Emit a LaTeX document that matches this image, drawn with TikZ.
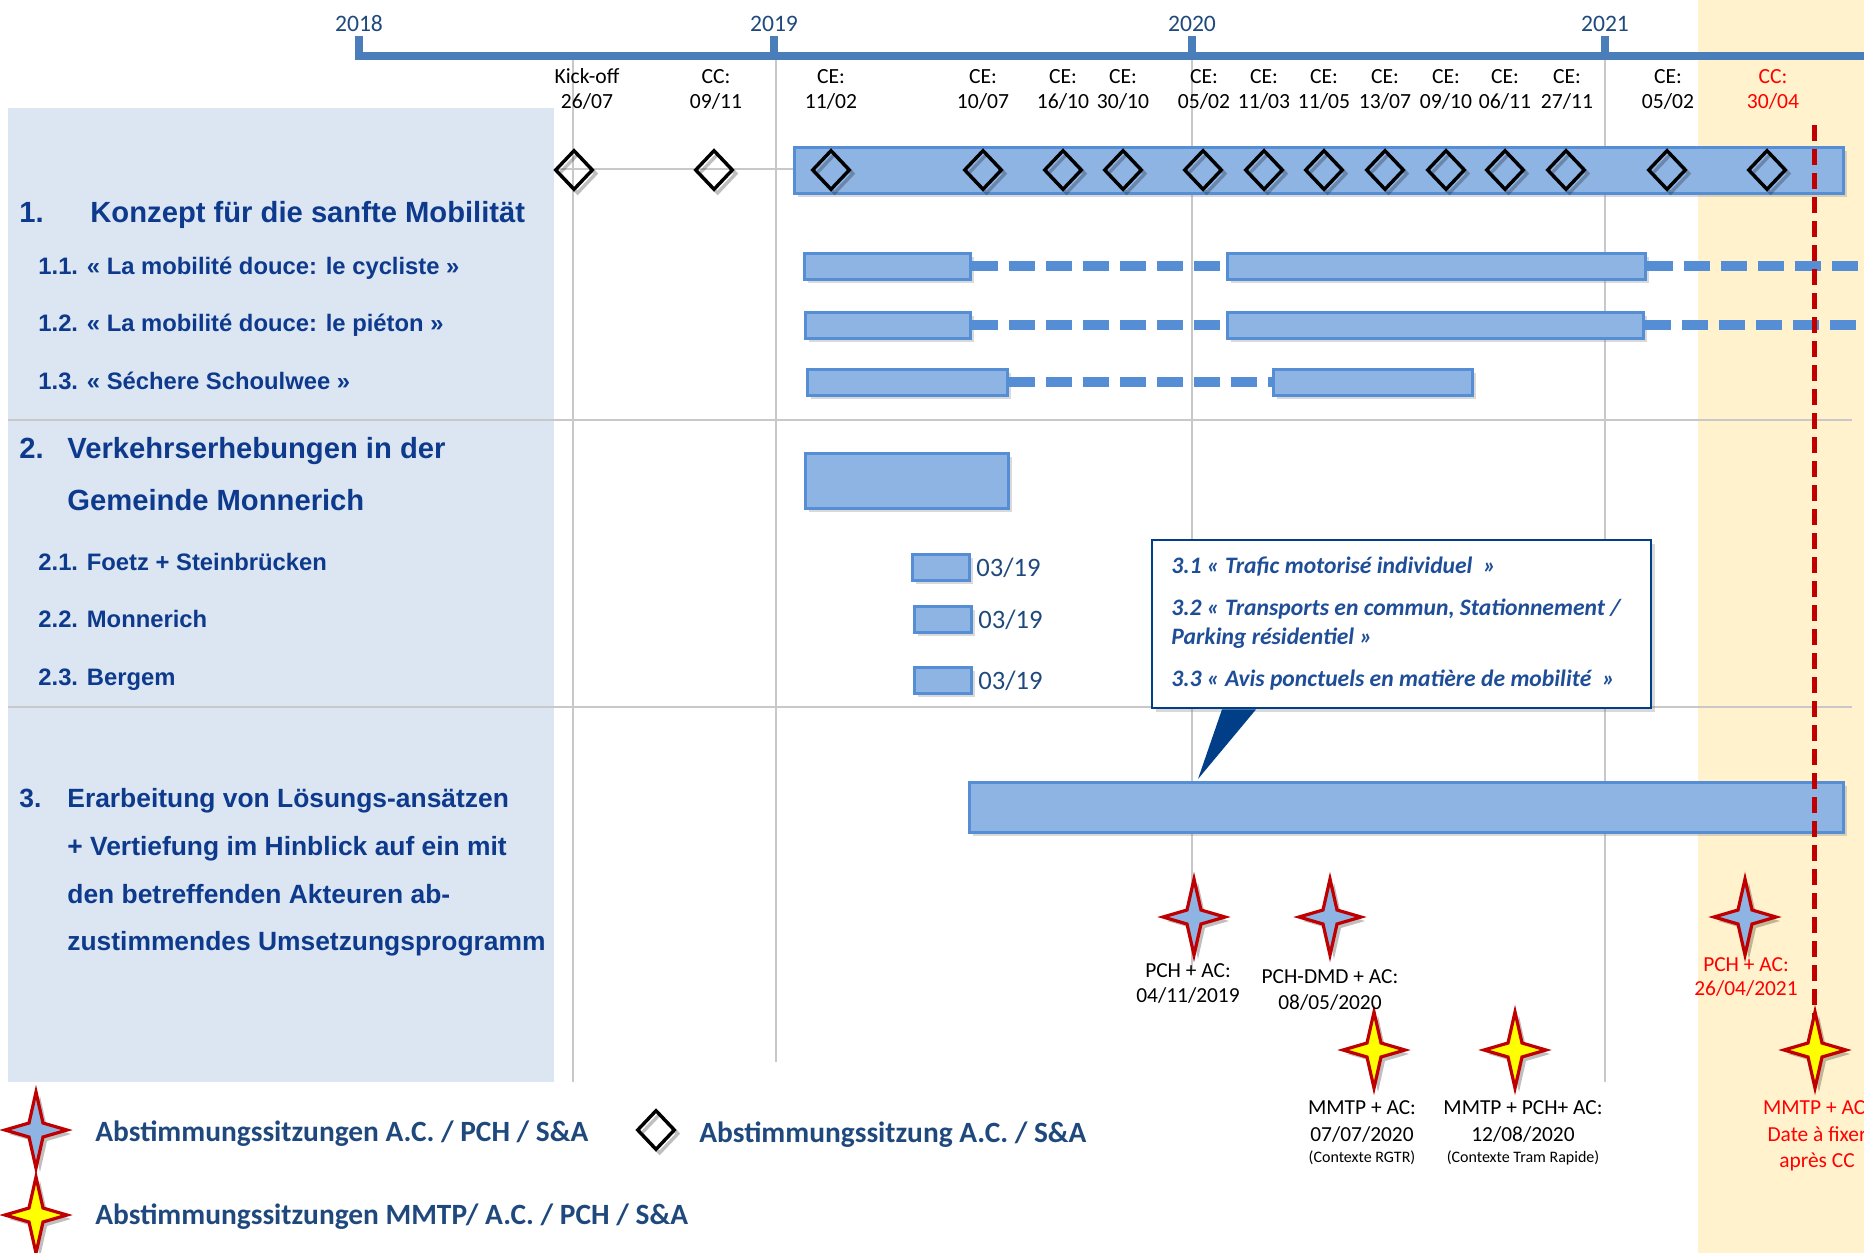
\documentclass[tikz,border=0pt]{standalone}
\usepackage{fontspec}
\setmainfont{Carlito}
\newfontfamily\arialfont{Liberation Sans}
\usetikzlibrary{shapes.geometric,shadows,fit}

\definecolor{msNavy}{HTML}{0D3A8C}
\definecolor{msText}{HTML}{1F497D}
\definecolor{msCallout}{HTML}{1F4E99}
\definecolor{msAxis}{HTML}{4A7EBB}
\definecolor{msBar}{HTML}{8EB4E3}
\definecolor{msBarEdge}{HTML}{558ED5}
\definecolor{msPanel}{HTML}{DCE6F2}
\definecolor{msBeige}{HTML}{FFF2CC}
\definecolor{msGrid}{HTML}{C8C8C8}
\definecolor{msRed}{HTML}{C00000}
\definecolor{msLabelRed}{HTML}{FF0000}
\definecolor{msPointer}{HTML}{003F87}
\definecolor{msStar}{HTML}{FFFF00}

\begin{document}
\begin{tikzpicture}[
  x=.5pt, y=-.5pt, text=black,
  ms head/.style={font=\arialfont\bfseries\fontsize{14.6}{17}\selectfont,text=msNavy,anchor=base west,inner sep=0pt},
  ms head3/.style={ms head,font=\arialfont\bfseries\fontsize{13.2}{16}\selectfont},
  ms sub/.style={ms head,font=\arialfont\bfseries\fontsize{11.9}{14}\selectfont},
  ms date/.style={font=\fontsize{10.8}{13}\selectfont,anchor=base,inner sep=0pt},
  ms year/.style={font=\fontsize{11.8}{14}\selectfont,text=msText,anchor=base,inner sep=0pt},
  ms month/.style={font=\fontsize{13.3}{16}\selectfont,text=msText,anchor=base west,inner sep=0pt},
  ms note/.style={font=\fontsize{10.7}{13}\selectfont,anchor=base,inner sep=0pt},
  ms tiny/.style={ms note,font=\fontsize{8}{10}\selectfont},
  ms legend/.style={font=\bfseries\fontsize{14.7}{17}\selectfont,text=msText,anchor=base west,inner sep=0pt},
  ms ctext/.style={font=\bfseries\itshape\fontsize{11.8}{14}\selectfont,text=msCallout,anchor=base west,inner sep=0pt},
  ms axis/.style={draw=msAxis,line width=3.8pt},
  ms grid/.style={draw=msGrid,line width=.6pt},
  ms rule/.style={draw=msGrid,line width=1pt},
  ms bar/.style={draw=msBarEdge,fill=msBar,line width=1.5pt,inner sep=0pt,
    drop shadow={shadow xshift=2pt,shadow yshift=-2pt,opacity=.3}},
  ms link/.style={draw=msBarEdge,line width=5pt,dash pattern=on 13pt off 5.5pt},
  ms diamond/.style={shape=diamond,draw=black,line width=1.7pt,inner sep=0pt,
    minimum width=19pt,minimum height=20pt,
    preaction={draw=black,opacity=.25,transform canvas={shift={(1.8pt,-1.8pt)}}}},
  ms callout/.style={draw=msPointer,fill=white,line width=1.2pt,inner sep=0pt,
    drop shadow={shadow xshift=2pt,shadow yshift=-2pt,opacity=.3}},
  ms deadline/.style={draw=msRed,line width=2.5pt,dash pattern=on 8pt off 4pt},
  ms star/.pic={
    \filldraw[fill=#1,draw=msRed,line width=1.6pt,line join=miter,
      preaction={fill=black,opacity=.25,transform canvas={shift={(2pt,-2pt)}}}]
      (0,-38) -- (7,-7) -- (31,0) -- (7,7) -- (0,38) -- (-7,7) -- (-31,0) -- (-7,-7) -- cycle;
  }
]
\path[use as bounding box,clip] (0,0) rectangle (1864,1253);

% Backgrounds: task panel and the period after the CC.
\fill[msBeige] (1698,0) rectangle (1864,1253);
\fill[msPanel] (8,108) rectangle (554,1082);

% Grid.
\draw[ms grid] (573,60) -- (573,1082);
\draw[ms grid] (776,60) -- (776,1062);
\draw[ms grid] (1192,60) -- (1192,969);
\draw[ms grid] (1605,60) -- (1605,1082);
\draw[ms rule] (554,169) -- (794,169);
\draw[ms rule] (8,420) -- (1852,420);
\draw[ms rule] (8,707) -- (1852,707);

% Time axis with year ticks.
\draw[ms axis,line join=miter] (359,36) -- (359,56) -- (1864,56);
\foreach \x/\yr in {359/2018,774/2019,1192/2020,1605/2021} {
  \draw[ms axis] (\x,36) -- (\x,56);
  \node[ms year] (y\yr) at (\x,31) {\yr};
}

% Task bars.
\node[ms bar,fit={(794,147) (1843,193)}] (b1) {};
\node[ms bar,fit={(804,253) (970,279)}] (b11a) {};
\node[ms bar,fit={(1227,253) (1645,279)}] (b11b) {};
\node[ms bar,fit={(805,312) (970,338)}] (b12a) {};
\node[ms bar,fit={(1227,312) (1643,338)}] (b12b) {};
\node[ms bar,fit={(807,369) (1007,395)}] (b13a) {};
\node[ms bar,fit={(1273,369) (1472,395)}] (b13b) {};
\node[ms bar,fit={(805,453) (1008,508)}] (b2) {};
\node[ms bar,fit={(912,554) (969,580)}] (b21) {};
\node[ms bar,fit={(914,606) (971,632)}] (b22) {};
\node[ms bar,fit={(914,667) (971,693)}] (b23) {};
\node[ms bar,fit={(969,782) (1843,832)}] (b3) {};
\coordinate (e11) at (1864,266);
\coordinate (e12) at (1864,325);
\draw[ms link] (b11a.east) -- (b11b.west);
\draw[ms link] (b11b.east) -- (e11);
\draw[ms link] (b12a.east) -- (b12b.west);
\draw[ms link] (b12b.east) -- (e12);
\draw[ms link] (b13a.east) -- (b13b.west);
\node[ms month] (m21) at (976,576) {03/19};
\node[ms month] (m22) at (978,628) {03/19};
\node[ms month] (m23) at (978,689) {03/19};

% Meetings: labels above, diamonds on the first row.
\foreach \x/\lx/\kind/\date [count=\i] in {574/587/Kick-off/{26/07},714/716/CC:/{09/11},
    831/831/CE:/{11/02},983/983/CE:/{10/07},1063/1063/CE:/{16/10},1123/1123/CE:/{30/10},
    1203/1204/CE:/{05/02},1264/1264/CE:/{11/03},1324/1324/CE:/{11/05},1385/1385/CE:/{13/07},
    1446/1446/CE:/{09/10},1505/1505/CE:/{06/11},1566/1567/CE:/{27/11},1667/1668/CE:/{05/02}} {
  \node[ms date] (k\i) at (\lx,83) {\kind};
  \node[ms date] (t\i) at (\lx,108) {\date};
  \node[ms diamond] (d\i) at (\x,170) {};
}
\node[ms date,text=msLabelRed] (kcc) at (1773,83) {CC:};
\node[ms date,text=msLabelRed] (tcc) at (1773,108) {30/04};
\node[ms diamond] (dcc) at (1767,170) {};

% Callout for the sub-topics of task 3.
\node[ms callout,minimum width=249.5pt,minimum height=84pt,anchor=north west] (callout) at (1151,539) {};
\coordinate (ptip) at (1198,779);
\fill[msPointer] ([xshift=35.5pt]callout.south west) -- (ptip)
  -- ([xshift=52.5pt]callout.south west) -- cycle;
\node[ms ctext] (c1) at (1171,573) {3.1 « Trafic motorisé individuel~~»};
\node[ms ctext] (c2) at (1171,615) {3.2 « Transports en commun, Stationnement /};
\node[ms ctext] (c3) at (1171,644) {Parking résidentiel »};
\node[ms ctext] (c4) at (1171,686) {3.3 « Avis ponctuels en matière de mobilité~~»};

% Deadline after the CC.
\draw[ms deadline] (1814,125) -- (1814,1030);

% Coordination meetings.
\pic at (1194,917) {ms star=msBar};
\pic at (1330,917) {ms star=msBar};
\pic at (1745,917) {ms star=msBar};
\pic at (1374,1050) {ms star=msStar};
\pic at (1515,1050) {ms star=msStar};
\pic at (1815,1050) {ms star=msStar};
\node[ms note] (n1a) at (1188,977) {PCH + AC:};
\node[ms note] (n1b) at (1188,1002) {04/11/2019};
\node[ms note] (n2a) at (1330,983) {PCH-DMD + AC:};
\node[ms note] (n2b) at (1330,1009) {08/05/2020};
\node[ms note] (n3a) at (1362,1114) {MMTP + AC:};
\node[ms note] (n3b) at (1362,1141) {07/07/2020};
\node[ms tiny] (n3c) at (1362,1162) {(Contexte RGTR)};
\node[ms note] (n4a) at (1523,1114) {MMTP + PCH+ AC:};
\node[ms note] (n4b) at (1523,1141) {12/08/2020};
\node[ms tiny] (n4c) at (1523,1162) {(Contexte Tram Rapide)};
\node[ms note,text=msLabelRed] (n5a) at (1746,971) {PCH + AC:};
\node[ms note,text=msLabelRed] (n5b) at (1746,995) {26/04/2021};
\node[ms note,text=msLabelRed] (n6a) at (1817,1114) {MMTP + AC:};
\node[ms note,text=msLabelRed] (n6b) at (1817,1141) {Date à fixer};
\node[ms note,text=msLabelRed] (n6c) at (1817,1167) {après CC};

% Task list.
\node[ms head] (h1n) at (19,222) {1.};
\node[ms head] (h1) at (90,222) {Konzept für die sanfte Mobilität};
\node[ms sub] (h11) at (38,274) {1.1. « La mobilité douce: le cycliste »};
\node[ms sub] (h12) at (38,331) {1.2. « La mobilité douce: le piéton »};
\node[ms sub] (h13) at (38,389) {1.3. « Séchere Schoulwee »};
\node[ms head] (h2n) at (19,458) {2.};
\node[ms head] (h2a) at (67,458) {Verkehrserhebungen in der};
\node[ms head] (h2b) at (67,510) {Gemeinde Monnerich};
\node[ms sub] (h21) at (38,570) {2.1. Foetz + Steinbrücken};
\node[ms sub] (h22) at (38,627) {2.2. Monnerich};
\node[ms sub] (h23) at (38,685) {2.3. Bergem};
\node[ms head3] (h3n) at (19,807) {3.};
\node[ms head3] (h3a) at (67,807) {Erarbeitung von Lösungs-ansätzen};
\node[ms head3] (h3b) at (67,855) {+ Vertiefung im Hinblick auf ein mit};
\node[ms head3] (h3c) at (67,903) {den betreffenden Akteuren ab-};
\node[ms head3] (h3d) at (67,950) {zustimmendes Umsetzungsprogramm};

% Legend.
\pic at (36,1130) {ms star=msBar};
\node[ms legend] (lg1) at (95,1141) {Abstimmungssitzungen A.C. / PCH / S\&A};
\node[ms diamond] (lgd) at (656,1130) {};
\node[ms legend] (lg2) at (699,1142) {Abstimmungssitzung A.C. / S\&A};
\pic at (36,1215) {ms star=msStar};
\node[ms legend] (lg3) at (95,1224) {Abstimmungssitzungen MMTP/ A.C. / PCH / S\&A};
\end{tikzpicture}
\end{document}
